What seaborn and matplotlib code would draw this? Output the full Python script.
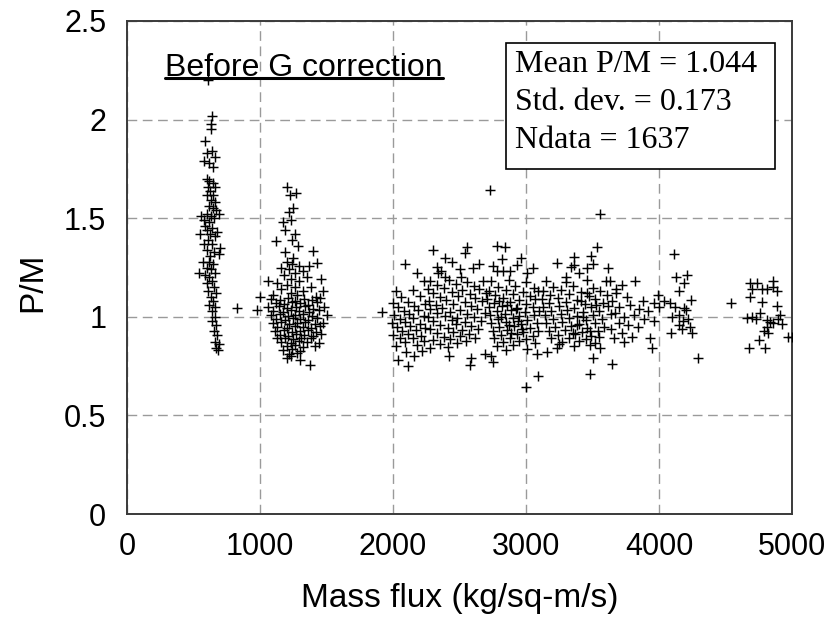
import matplotlib
matplotlib.use("Agg")
import matplotlib.pyplot as plt
import matplotlib.patches as mpatches
import numpy as np
import pandas as pd
import seaborn as sns

# ---------------- data (mass flux, P/M) ----------------
cluster_600 = [
    (609, 2.20), (640, 2.02), (635, 1.98), (630, 1.95), (590, 1.89), (600, 1.83), (640, 1.84),
    (580, 1.79), (615, 1.78), (650, 1.76), (660, 1.81),
    (600, 1.70), (620, 1.69), (645, 1.68), (610, 1.66), (660, 1.66), (625, 1.64), (600, 1.62), (650, 1.62),
    (630, 1.59), (660, 1.58), (615, 1.56), (645, 1.55), (670, 1.54), (560, 1.51), (600, 1.52), (635, 1.51),
    (690, 1.52), (580, 1.49), (655, 1.50), (620, 1.48),
    (590, 1.46), (640, 1.45), (600, 1.44), (675, 1.43), (550, 1.42), (625, 1.42), (660, 1.41), (610, 1.39),
    (580, 1.37), (640, 1.37), (700, 1.35), (600, 1.34), (655, 1.33), (625, 1.31), (690, 1.32),
    (570, 1.28), (615, 1.28), (650, 1.27), (600, 1.25), (630, 1.24), (545, 1.22), (590, 1.21), (665, 1.22),
    (620, 1.20), (640, 1.18), (600, 1.17), (655, 1.15), (610, 1.13), (670, 1.12), (630, 1.10),
    (650, 1.08), (620, 1.06), (665, 1.05), (640, 1.03), (660, 1.00), (827, 1.045),
    (640, 0.98), (670, 0.96), (655, 0.93), (680, 0.91), (665, 0.87), (690, 0.86), (670, 0.84), (685, 0.83),
]

cluster_1250 = [
    (1203, 1.66), (1225, 1.62), (1270, 1.63), (1250, 1.55), (1215, 1.53), (1170, 1.48), (1230, 1.49),
    (1190, 1.44), (1260, 1.42), (1120, 1.385), (1240, 1.39), (1285, 1.36), (1395, 1.335), (1185, 1.33),
    (1250, 1.30), (1370, 1.26), (1430, 1.275), (1455, 1.19), (1475, 1.13), (1060, 1.18), (1000, 1.10),
    (977, 1.035),
    (1200, 1.28), (1240, 1.27), (1290, 1.26), (1160, 1.25), (1220, 1.24), (1320, 1.23), (1260, 1.22),
    (1180, 1.21), (1350, 1.20), (1230, 1.19), (1290, 1.18), (1130, 1.17), (1200, 1.16), (1260, 1.15),
    (1380, 1.15), (1160, 1.14), (1320, 1.13), (1230, 1.12), (1100, 1.11), (1280, 1.11), (1420, 1.10),
    (1080, 1.09), (1150, 1.085), (1210, 1.095), (1260, 1.08), (1330, 1.09), (1390, 1.085), (1450, 1.095),
    (1120, 1.07), (1180, 1.065), (1240, 1.075), (1300, 1.07), (1360, 1.06), (1430, 1.075),
    (1060, 1.05), (1140, 1.055), (1200, 1.045), (1270, 1.05), (1340, 1.055), (1400, 1.04), (1480, 1.05),
    (1100, 1.03), (1170, 1.025), (1230, 1.035), (1290, 1.03), (1370, 1.025), (1440, 1.035),
    (1080, 1.01), (1150, 1.015), (1210, 1.005), (1260, 1.01), (1320, 1.015), (1390, 1.005), (1500, 1.01),
    (1120, 0.99), (1190, 0.985), (1250, 0.995), (1300, 0.99), (1360, 0.985), (1430, 0.995),
    (1100, 0.97), (1160, 0.975), (1220, 0.965), (1280, 0.97), (1340, 0.975), (1410, 0.965), (1470, 0.97),
    (1130, 0.95), (1200, 0.945), (1260, 0.955), (1320, 0.95), (1380, 0.945), (1450, 0.955),
    (1110, 0.93), (1180, 0.935), (1240, 0.925), (1300, 0.93), (1360, 0.935), (1420, 0.925),
    (1150, 0.91), (1210, 0.905), (1270, 0.915), (1330, 0.91), (1400, 0.905), (1460, 0.915),
    (1130, 0.89), (1190, 0.895), (1250, 0.885), (1310, 0.89), (1380, 0.895),
    (1160, 0.87), (1230, 0.865), (1290, 0.875), (1350, 0.87), (1440, 0.865),
    (1200, 0.85), (1260, 0.855), (1320, 0.845), (1410, 0.85),
    (1170, 0.83), (1240, 0.835), (1300, 0.825), (1220, 0.81), (1280, 0.815),
    (1203, 0.79), (1375, 0.757), (1235, 0.80), (1300, 0.78),
]

cluster_2100 = [
    (2090, 1.27), (2180, 1.22), (2230, 1.18), (2020, 1.13), (2150, 1.135), (2060, 1.10), (2200, 1.105),
    (2000, 1.07), (2110, 1.075), (2240, 1.065), (1917, 1.025), (2040, 1.05), (2160, 1.055),
    (2080, 1.03), (2190, 1.035), (2010, 1.01), (2120, 1.015), (2230, 1.005), (2050, 0.99), (2150, 0.995),
    (1990, 0.97), (2090, 0.975), (2200, 0.965), (2030, 0.95), (2130, 0.955), (2240, 0.945),
    (2070, 0.93), (2170, 0.935), (2000, 0.91), (2110, 0.915), (2210, 0.905), (2050, 0.89), (2150, 0.895),
    (2090, 0.87), (2230, 0.875), (2020, 0.85), (2180, 0.855), (2100, 0.82), (2220, 0.825),
    (2040, 0.78), (2115, 0.75), (2160, 0.80),
]

cluster_2500 = [
    (2300, 1.34), (2330, 1.255), (2340, 1.22), (2360, 1.23), (2390, 1.20), (2500, 1.24), (2510, 1.20),
    (2560, 1.355), (2540, 1.325), (2390, 1.30), (2440, 1.28), (2600, 1.25), (2650, 1.27),
    (2280, 1.18), (2420, 1.185), (2560, 1.175), (2680, 1.18),
    (2330, 1.16), (2470, 1.165), (2610, 1.155),
    (2260, 1.14), (2380, 1.145), (2520, 1.135), (2650, 1.14),
    (2300, 1.12), (2440, 1.125), (2580, 1.115), (2700, 1.12),
    (2350, 1.10), (2490, 1.105), (2620, 1.095),
    (2270, 1.08), (2400, 1.085), (2540, 1.075), (2670, 1.08),
    (2320, 1.06), (2450, 1.065), (2590, 1.055),
    (2280, 1.04), (2370, 1.045), (2500, 1.035), (2630, 1.04),
    (2330, 1.02), (2430, 1.025), (2560, 1.015), (2690, 1.02),
    (2260, 1.00), (2390, 1.005), (2480, 0.995), (2610, 1.00),
    (2300, 0.98), (2440, 0.985), (2540, 0.975), (2660, 0.98),
    (2350, 0.96), (2470, 0.965), (2590, 0.955),
    (2280, 0.94), (2410, 0.945), (2520, 0.935), (2640, 0.94),
    (2330, 0.92), (2450, 0.925), (2570, 0.915),
    (2380, 0.90), (2500, 0.905), (2620, 0.895),
    (2300, 0.88), (2430, 0.885), (2550, 0.875),
    (2350, 0.86), (2480, 0.865), (2280, 0.84), (2410, 0.845),
    (2590, 0.79), (2580, 0.757), (2690, 0.81), (2420, 0.80),
]

cluster_2900 = [
    (2730, 1.645), (2780, 1.36), (2840, 1.355), (2820, 1.295), (2750, 1.26), (2780, 1.23), (2830, 1.23),
    (2880, 1.23), (2930, 1.265), (3050, 1.25), (3010, 1.22), (2960, 1.30),
    (2740, 1.18), (2870, 1.185), (3000, 1.175),
    (2790, 1.15), (2920, 1.155), (3060, 1.145),
    (2720, 1.13), (2850, 1.135), (2980, 1.125), (3090, 1.13),
    (2770, 1.11), (2900, 1.115), (3030, 1.105),
    (2710, 1.09), (2830, 1.095), (2950, 1.085), (3070, 1.09),
    (2760, 1.07), (2880, 1.075), (3000, 1.065),
    (2720, 1.05), (2820, 1.055), (2930, 1.045), (3050, 1.05),
    (2780, 1.03), (2890, 1.035), (2990, 1.025), (3100, 1.03),
    (2730, 1.01), (2840, 1.015), (2950, 1.005), (3060, 1.01),
    (2790, 0.99), (2900, 0.995), (3010, 0.985),
    (2740, 0.97), (2850, 0.975), (2960, 0.965), (3080, 0.97),
    (2800, 0.95), (2910, 0.955), (3030, 0.945),
    (2750, 0.93), (2860, 0.935), (2980, 0.925), (3090, 0.93),
    (2810, 0.91), (2930, 0.915), (3050, 0.905),
    (2760, 0.89), (2880, 0.895), (3000, 0.885),
    (2830, 0.87), (2950, 0.875), (3070, 0.865),
    (2780, 0.85), (2900, 0.855), (2850, 0.83), (3010, 0.835),
    (2815, 1.00), (2870, 0.96), (2925, 1.04), (2970, 0.94), (2890, 0.92), (2940, 0.98), (2860, 1.06),
    (2800, 1.08),
    (2740, 0.80), (2750, 0.77), (3080, 0.81), (3000, 0.645), (3090, 0.70), (3160, 0.82), (3230, 0.84),
    (3250, 0.86),
]

cluster_3400 = [
    (3230, 1.275), (3360, 1.305), (3340, 1.255), (3360, 1.265), (3490, 1.31), (3500, 1.27), (3460, 1.25),
    (3534, 1.355), (3556, 1.52), (3400, 1.22), (3300, 1.20),
    (3150, 1.18), (3300, 1.175), (3460, 1.185), (3600, 1.18),
    (3200, 1.15), (3350, 1.155), (3500, 1.145),
    (3130, 1.13), (3260, 1.135), (3410, 1.125), (3560, 1.13),
    (3180, 1.11), (3320, 1.115), (3470, 1.105), (3610, 1.11),
    (3120, 1.09), (3240, 1.095), (3380, 1.085), (3520, 1.09),
    (3170, 1.07), (3300, 1.075), (3440, 1.065), (3580, 1.07),
    (3130, 1.05), (3250, 1.055), (3360, 1.045), (3490, 1.05), (3620, 1.055),
    (3190, 1.03), (3310, 1.035), (3430, 1.025), (3550, 1.03),
    (3140, 1.01), (3260, 1.015), (3380, 1.005), (3500, 1.01), (3640, 1.015),
    (3200, 0.99), (3320, 0.995), (3450, 0.985), (3570, 0.99),
    (3150, 0.97), (3270, 0.975), (3400, 0.965), (3520, 0.97),
    (3220, 0.95), (3340, 0.955), (3460, 0.945), (3590, 0.95),
    (3170, 0.93), (3290, 0.935), (3420, 0.925), (3540, 0.93),
    (3240, 0.91), (3370, 0.915), (3490, 0.905),
    (3190, 0.89), (3320, 0.895), (3450, 0.885),
    (3270, 0.87), (3400, 0.875), (3520, 0.865),
    (3360, 0.85), (3480, 0.855),
    (3380, 0.96), (3430, 1.00), (3480, 0.93), (3530, 1.06), (3410, 1.08), (3460, 1.12), (3350, 0.92),
    (3550, 0.90),
    (3500, 0.79), (3480, 0.71), (3650, 0.76), (3560, 0.84),
]

cluster_3800 = [
    (3620, 1.25), (3630, 1.18), (3720, 1.16), (3820, 1.18), (3680, 1.12), (3760, 1.10), (3880, 1.08),
    (3960, 1.07), (3650, 1.08), (3700, 1.05), (3780, 1.06), (3850, 1.04), (3920, 1.03), (4000, 1.05),
    (3670, 1.02), (3740, 1.00), (3810, 1.01), (3890, 0.99), (3960, 0.98), (3700, 0.97), (3770, 0.96),
    (3840, 0.95), (3640, 0.94), (3720, 0.92), (3800, 0.90), (3660, 0.89), (3740, 0.87), (3935, 0.89),
    (3950, 0.84), (3680, 1.14), (4040, 1.08), (3990, 1.11),
]

cluster_4200 = [
    (4113, 1.32), (4130, 1.20), (4210, 1.21), (4190, 1.17), (4150, 1.13), (4240, 1.085), (4190, 1.045),
    (4200, 1.035), (4100, 1.00), (4150, 1.01), (4220, 0.99), (4150, 0.96), (4170, 0.94), (4230, 0.95),
    (4090, 0.92), (4250, 0.92), (4290, 0.79), (4120, 1.05), (4080, 1.07), (4180, 0.98),
]

cluster_4800 = [
    (4541, 1.07), (4684, 1.17), (4737, 1.17), (4700, 1.14), (4775, 1.14), (4812, 1.14), (4857, 1.18),
    (4857, 1.15), (4887, 1.13), (4684, 1.10), (4775, 1.075), (4887, 1.055), (4660, 0.995), (4700, 1.0),
    (4730, 0.99), (4760, 1.02), (4812, 0.985), (4835, 0.975), (4857, 0.97), (4895, 0.99), (4910, 1.01),
    (4925, 0.965), (4790, 0.93), (4812, 0.95), (4820, 0.92), (4750, 0.88), (4680, 0.84), (4800, 0.84),
    (4970, 0.90), (5000, 0.90),
]

x_ticks = [0, 1000, 2000, 3000, 4000, 5000]
y_ticks = [0, 0.5, 1, 1.5, 2, 2.5]
y_tick_labels = ["0", "0.5", "1", "1.5", "2", "2.5"]
stats_lines = ["Mean P/M = 1.044", "Std. dev. = 0.173", "Ndata = 1637"]
panel_title = "Before G correction"

# ---------------- build table ----------------
all_points = (cluster_600 + cluster_1250 + cluster_2100 + cluster_2500 + cluster_2900
              + cluster_3400 + cluster_3800 + cluster_4200 + cluster_4800)
df = pd.DataFrame(all_points, columns=["G", "PM"])

# ---------------- style ----------------
sns.set_style("white")
plt.rcParams["font.family"] = ["Liberation Sans", "DejaVu Sans"]
plt.rcParams["text.color"] = "black"
plt.rcParams["axes.labelcolor"] = "black"

fig = plt.figure(figsize=(8.32, 6.24), dpi=100)
W, H = 832, 624
ax_l, ax_r, ax_t, ax_b = 127, 792, 21, 514
ax = fig.add_axes([ax_l / W, 1 - ax_b / H, (ax_r - ax_l) / W, (ax_b - ax_t) / H])

sns.scatterplot(data=df, x="G", y="PM", marker="+", color="black", s=50,
                linewidth=1.05, ax=ax, zorder=3, legend=False)

ax.set_xlim(0, 5000)
ax.set_ylim(0, 2.5)
ax.set_xticks(x_ticks)
ax.set_xticklabels([str(v) for v in x_ticks])
ax.set_yticks(y_ticks)
ax.set_yticklabels(y_tick_labels)
ax.set_yticks(np.arange(0.25, 2.5, 0.5), minor=True)

ax.grid(True, which="major", color="#9a9a9a", linestyle=(0, (7, 4)), linewidth=1.0, zorder=0)
ax.set_axisbelow(True)

for sp in ax.spines.values():
    sp.set_color("#3a3a3a")
    sp.set_linewidth(1.4)
    sp.set_visible(True)

ax.tick_params(axis="both", which="major", labelsize=22, direction="out", length=5,
               width=1.2, color="#3a3a3a", labelcolor="black")
ax.tick_params(axis="x", which="major", pad=8)
ax.tick_params(axis="y", which="major", pad=10)
ax.tick_params(axis="y", which="minor", direction="inout", length=7, width=1.2, color="#3a3a3a")

ax.set_xlabel("Mass flux (kg/sq-m/s)", fontsize=24, color="black")
ax.set_ylabel("P/M", fontsize=24, color="black")
ax.xaxis.set_label_coords(0.5, -0.14)
ax.yaxis.set_label_coords(-0.118, 0.47)

# panel title with underline
t = ax.text(0.057, 0.888, panel_title, transform=ax.transAxes, fontsize=23,
            ha="left", va="baseline", color="black", zorder=6)
fig.canvas.draw()
bb = t.get_window_extent(fig.canvas.get_renderer())
inv = fig.transFigure.inverted()
(x0f, y0f) = inv.transform((bb.x0, bb.y0))
(x1f, _) = inv.transform((bb.x1, bb.y0))
uy = 1 - 78 / H
fig.add_artist(plt.Line2D([x0f, x1f], [uy, uy], transform=fig.transFigure,
                          color="black", linewidth=2.2))

# statistics box
bx0, bx1, by_top, by_bot = 506, 775, 43, 169
rect = mpatches.Rectangle(((bx0 - ax_l) / (ax_r - ax_l), (ax_b - by_bot) / (ax_b - ax_t)),
                          (bx1 - bx0) / (ax_r - ax_l), (by_bot - by_top) / (ax_b - ax_t),
                          transform=ax.transAxes, facecolor="white", edgecolor="black",
                          linewidth=1.2, zorder=5)
ax.add_patch(rect)
for i, line in enumerate(stats_lines):
    py = 65 + i * 37.5
    ax.text((515 - ax_l) / (ax_r - ax_l), (ax_b - py) / (ax_b - ax_t), line,
            transform=ax.transAxes, fontsize=23, family=["Liberation Serif", "DejaVu Serif"],
            ha="left", va="center", color="black", zorder=6)

fig.savefig("out.png", dpi=100)
